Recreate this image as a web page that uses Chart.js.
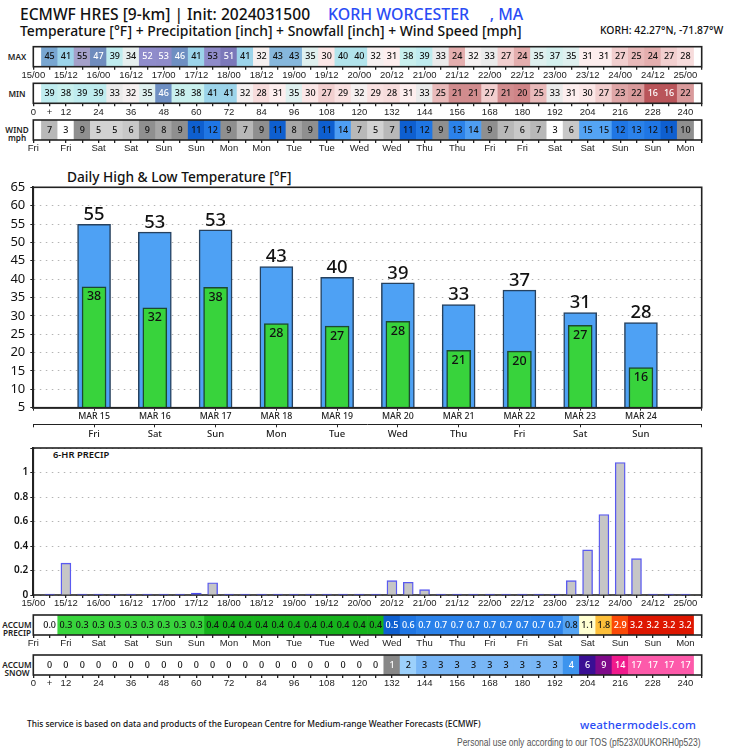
<!DOCTYPE html>
<html>
<head>
<meta charset="utf-8">
<script src="https://cdn.jsdelivr.net/npm/chart.js@4"></script>
<style>
  html, body { margin: 0; padding: 0; background: #fff; }
  #page { position: relative; width: 735px; height: 750px; overflow: hidden; font-family: "Noto Sans", sans-serif; color: #111; }
  #page canvas { position: absolute; left: 0; }
  .txt { position: absolute; white-space: pre; line-height: 1; }
  .lab { font-size: 8.2px; font-weight: 600; text-align: center; width: 32px; left: 1px; line-height: 8px; color: #222; }
</style>
</head>
<body>
<div id="page">
  <div class="txt" style="left:20px;top:6.5px;font-size:15.6px;font-weight:500">ECMWF HRES [9-km] | Init: 2024031500</div>
  <div class="txt" style="left:328px;top:6.5px;font-size:15.9px;font-weight:500;color:#2a4cf5">KORH WORCESTER     , MA</div>
  <div class="txt" style="left:20px;top:23.5px;font-size:13.9px;font-weight:500">Temperature [°F] + Precipitation [inch] + Snowfall [inch] + Wind Speed [mph]</div>
  <div class="txt" style="left:600px;top:25px;font-size:10.4px;font-weight:500">KORH: 42.27°N, -71.87°W</div>
  <div class="txt lab" style="top:53px">MAX</div>
  <div class="txt lab" style="top:90px">MIN</div>
  <div class="txt lab" style="top:126px">WIND<br>mph</div>
  <div class="txt lab" style="top:621px">ACCUM<br>PRECIP</div>
  <div class="txt lab" style="top:661px">ACCUM<br>SNOW</div>
  <div class="txt" style="left:67px;top:170px;font-size:13.7px;font-weight:500">Daily High &amp; Low Temperature [°F]</div>
  <div class="txt" style="left:53px;top:450px;font-size:9.4px;font-weight:600">6-HR PRECIP</div>
  <div class="txt" style="left:27px;top:720px;font-size:8.4px;font-weight:500">This service is based on data and products of the European Centre for Medium-range Weather Forecasts (ECMWF)</div>
  <div class="txt" style="left:580px;top:719px;font-size:11.5px;font-weight:500;color:#2a4cf5;letter-spacing:.2px">weathermodels.com</div>
  <div class="txt" style="left:457px;top:738px;font-family:'Liberation Sans';font-size:10.4px;color:#555;transform:scaleX(.815);transform-origin:left">Personal use only according to our TOS (pf523X0UKORH0p523)</div>
</div>
<script>
// -------- values (every 6 hours, +6 to +240) --------
const hours = [];
for (let h = 6; h <= 240; h += 6) hours.push(h);

const maxT = [45,41,55,47,39,34,52,53,46,41,53,51,41,32,43,43,35,30,40,40,32,31,38,39,33,24,32,33,27,24,35,37,35,31,31,27,25,24,27,28];
const minT = [39,38,39,39,33,32,35,46,38,38,41,41,32,28,31,35,30,27,29,32,29,28,31,33,25,21,21,27,21,20,25,33,31,30,27,23,22,16,16,22];
const wind = [7,3,9,5,5,6,9,8,9,11,12,9,7,9,11,8,9,11,14,7,5,7,11,12,9,13,14,9,7,6,7,3,6,15,15,12,13,12,11,10];
const precip6 = [0.008,0.26,0.008,0.008,0.008,0.008,0.008,0.008,0.008,0.015,0.10,0.008,0.008,0.008,0.008,0.008,0.008,0.008,0.008,0.008,0.008,0.117,0.104,0.044,0.008,0.008,0.008,0.008,0.008,0.008,0.008,0.008,0.117,0.368,0.657,1.082,0.297,0.008,0.008,0.008];
const accPrecip = ['0.0','0.3','0.3','0.3','0.3','0.3','0.3','0.3','0.3','0.3','0.4','0.4','0.4','0.4','0.4','0.4','0.4','0.4','0.4','0.4','0.4','0.5','0.6','0.7','0.7','0.7','0.7','0.7','0.7','0.7','0.7','0.7','0.8','1.1','1.8','2.9','3.2','3.2','3.2','3.2'];
const accSnow = [0,0,0,0,0,0,0,0,0,0,0,0,0,0,0,0,0,0,0,0,0,1,2,3,3,3,3,3,3,3,3,3,4,6,9,14,17,17,17,17];

const dayLabels = ['MAR 15','MAR 16','MAR 17','MAR 18','MAR 19','MAR 20','MAR 21','MAR 22','MAR 23','MAR 24'];
const dayNames = ['Fri','Sat','Sun','Mon','Tue','Wed','Thu','Fri','Sat','Sun'];
const highBars = [54.9,52.8,53.4,43.4,40.5,39,33.1,37,30.9,28.2];
const highText = [55,53,53,43,40,39,33,37,31,28];
const lowBars = [37.9,32.2,37.8,27.9,27.2,28.5,20.6,20.4,27.4,15.9];
const lowText = [38,32,38,28,27,28,21,20,27,16];

// -------- colour tables --------
const tempColors = {
  16:'#b9555a',20:'#cf8487',21:'#d18c8e',22:'#d99a9b',23:'#dfa6a7',24:'#e4aeae',25:'#e9baba',27:'#f2cfcf',28:'#f7dcdc',29:'#f9e1e1',
  30:'#fbe7e7',31:'#fdeeee',32:'#f5f0f0',33:'#ebebeb',34:'#e6efef',35:'#dff0ef',37:'#d4f0ee',38:'#c9f0ee',39:'#bfecef',40:'#b2e4ec',
  41:'#9cd4ea',43:'#86b7dc',45:'#78a6d1',46:'#6e8fc2',47:'#6f8cbd',51:'#7b78b9',52:'#8f8ccb',53:'#8e8bc9',55:'#a4a0c9'
};
const windColors = {3:'#ffffff',5:'#d2d2d2',6:'#c8c8c8',7:'#b8b8b8',8:'#a6a6a6',9:'#8f8f8f',10:'#8f8f8f',11:'#0e5fd0',12:'#1f76e4',13:'#2b82ea',14:'#4e9ef3',15:'#54a4f4'};
const precipColors = {'0.0':'#ffffff','0.3':'#38d43c','0.4':'#16b21c','0.5':'#0e5fd0','0.6':'#1f76e4','0.7':'#2b82ea','0.8':'#54a4f4','1.1':'#ffffd2','1.8':'#fdbf3a','2.9':'#fb4a08','3.2':'#de1600'};
const snowColors = {0:'#ffffff',1:'#888888',2:'#9cd0fb',3:'#78b6f6',4:'#3d94ee',6:'#3a0f94',9:'#7f0a8a',14:'#f01a8c',17:'#fd5aaa'};

// -------- shared bits --------
const LEFT = 33.3, RIGHT = 701.7, W = 735;
const TICK_FONT = { family: '"Liberation Sans"', size: 9.5 };
const dates = [];
for (let d = 15; d <= 25; d++) { dates.push(d + '/00'); if (d < 25) dates.push(d + '/12'); }
const weekdays = ['Fri','Fri','Sat','Sat','Sun','Sun','Mon','Mon','Tue','Tue','Wed','Wed','Thu','Thu','Fri','Fri','Sat','Sat','Sun','Sun','Mon'];
const everyTwelve = v => v % 12 === 0 && v <= 240;
const hourTick = v => (v === 6 ? '+' : everyTwelve(v) ? String(v) : '');
const dayTick = v => (everyTwelve(v) ? weekdays[v / 12] : '');
const dateTick = v => (everyTwelve(v) ? dates[v / 12] : '');
const sixHourTicks = s => { s.ticks = []; for (let v = 0; v <= 246; v += 6) s.ticks.push({ value: v }); };

// stops the scale from pushing the plot rectangle in for half a label
const fixSize = (prop, size) => s => {
  s[prop] = size;
  s.paddingTop = s.paddingBottom = s.paddingLeft = s.paddingRight = 0;
};

const hourAxis = (height, tick) => ({
  type: 'linear', min: 0, max: 246, offset: false,
  afterBuildTicks: sixHourTicks,
  afterFit: fixSize('height', height),
  grid: { offset: false, drawOnChartArea: false, tickLength: 3, color: '#222', lineWidth: 1.3 },
  border: { display: false },
  ticks: { autoSkip: false, maxRotation: 0, padding: 0, color: '#222', font: TICK_FONT, callback: tick }
});

// dark frame around the plot rectangle
const drawFrame = chart => {
  const a = chart.chartArea, ctx = chart.ctx;
  ctx.save();
  ctx.strokeStyle = '#222';
  ctx.lineWidth = 1.6;
  ctx.strokeRect(a.left, a.top, a.right - a.left, a.bottom - a.top);
  ctx.restore();
};
const frameOnTop = { id: 'frameOnTop', afterDraw: drawFrame };
const frameBelow = { id: 'frameBelow', beforeDatasetsDraw: drawFrame };

// numbers written on the cells / bars
const valueLabels = {
  id: 'valueLabels',
  afterDatasetsDraw(chart) {
    const ctx = chart.ctx;
    chart.data.datasets.forEach((ds, i) => {
      if (!ds.valueText) return;
      chart.getDatasetMeta(i).data.forEach((bar, j) => {
        if (ds.valueText[j] === '') return;
        ctx.save();
        ctx.font = ds.valueFont || '500 9px "Noto Sans"';
        ctx.textAlign = 'center';
        ctx.textBaseline = 'middle';
        ctx.fillStyle = ds.valueColor ? ds.valueColor(ds.valueText[j], j) : '#111';
        const y = ds.valueY ? ds.valueY(bar) : (chart.chartArea.top + chart.chartArea.bottom) / 2;
        ctx.fillText(String(ds.valueText[j]), bar.x, y);
        ctx.restore();
      });
    });
  }
};

function addCanvas(top, height) {
  const c = document.createElement('canvas');
  c.style.top = top + 'px';
  c.style.width = W + 'px';
  c.style.height = height + 'px';
  c.width = W;
  c.height = height;
  document.getElementById('page').appendChild(c);
  return c;
}

const noChrome = { legend: { display: false }, tooltip: { enabled: false } };

// one of the coloured strips: top of the strip in page px, values, colours, tick text
function strip(top, values, colors, textColor, tick) {
  const canvasTop = Math.floor(top) - 2;
  const padTop = top - canvasTop;
  return new Chart(addCanvas(canvasTop, 40), {
    type: 'bar',
    data: {
      datasets: [{
        data: hours.map(h => ({ x: h, y: 1 })),
        backgroundColor: values.map(v => colors[v]),
        barPercentage: 1,
        categoryPercentage: 1,
        valueText: values,
        valueColor: textColor
      }]
    },
    options: {
      responsive: false,
      animation: false,
      layout: { padding: { left: LEFT, right: W - RIGHT, top: padTop, bottom: 0 } },
      plugins: noChrome,
      scales: {
        x: hourAxis(20 - padTop, tick),
        y: { display: false, min: 0, max: 1 }
      }
    },
    plugins: [frameOnTop, valueLabels]
  });
}

// -------- strips --------
const whiteTemp = (v, j) => ([16, 46, 47, 51, 52].includes(v) || (v === 53 && j === 7) ? '#fff' : '#111');
strip(46.7, maxT, tempColors, whiteTemp, dateTick);
strip(83.3, minT, tempColors, whiteTemp, hourTick);
strip(120, wind, windColors, () => '#111', dayTick);
strip(615, accPrecip, precipColors, v => (['0.5','0.6','0.7','2.9','3.2'].includes(v) ? '#fff' : '#111'), dayTick);
strip(655, accSnow, snowColors, v => ([1,4,6,9,14,17].includes(v) ? '#fff' : '#111'), hourTick);

// -------- daily high / low --------
new Chart(addCanvas(180, 265), {
  type: 'bar',
  data: {
    labels: ['', ...dayLabels, ''],
    datasets: [
      {
        data: [null, ...highBars, null],
        backgroundColor: '#4ea1f4',
        borderColor: '#26415e',
        borderWidth: { top: 1.5, left: 1.5, right: 1.5, bottom: 0 },
        borderSkipped: false,
        barThickness: 33,
        order: 2,
        grouped: false,
        valueText: ['', ...highText, ''],
        valueFont: '500 18.4px "Noto Sans"',
        valueY: bar => bar.y - 9.5
      },
      {
        data: [null, ...lowBars, null],
        backgroundColor: '#38d33c',
        borderColor: '#1c4a30',
        borderWidth: { top: 1.5, left: 1.5, right: 1.5, bottom: 0 },
        borderSkipped: false,
        barThickness: 24,
        order: 1,
        grouped: false,
        valueText: ['', ...lowText, ''],
        valueFont: '500 12.5px "Noto Sans"',
        valueY: bar => bar.y + 10
      }
    ]
  },
  options: {
    responsive: false,
    animation: false,
    layout: { padding: { left: 0, right: W - RIGHT, top: 7.3, bottom: 0 } },
    plugins: noChrome,
    scales: {
      x: {
        offset: false,
        weight: 1,
        afterFit: fixSize('height', 16.6),
        grid: { offset: false, drawOnChartArea: false, tickLength: 3, color: '#222', lineWidth: 1 },
        border: { color: '#222', width: 1.8 },
        ticks: { autoSkip: false, maxRotation: 0, padding: 1, color: '#222', font: { family: '"Noto Sans"', size: 8.8, weight: '500' } }
      },
      days: {
        axis: 'x',
        type: 'category',
        position: 'bottom',
        weight: 2,
        labels: ['', ...dayNames, ''],
        offset: false,
        afterFit: fixSize('height', 20.7),
        grid: { offset: false, drawOnChartArea: false, tickLength: 3, color: '#222', lineWidth: 1 },
        border: { color: '#222', width: 1 },
        ticks: { autoSkip: false, maxRotation: 0, padding: 1, color: '#222', font: { family: '"Noto Sans"', size: 9.5, weight: '500' } }
      },
      y: {
        min: 5, max: 65,
        afterFit: fixSize('width', LEFT),
        grid: { color: '#b4b4b4', lineWidth: 1, drawTicks: true, tickLength: 3, tickColor: '#222' },
        border: { color: '#222', width: 1.8, dash: [1.5, 4.5] },
        ticks: { stepSize: 5, autoSkip: false, padding: 5, color: '#111', font: { family: '"Noto Sans"', size: 13 } }
      }
    }
  },
  plugins: [frameOnTop, valueLabels]
});

// -------- 6-hr precip --------
new Chart(addCanvas(440, 175), {
  type: 'bar',
  data: {
    datasets: [{
      data: hours.map((h, i) => ({ x: h, y: precip6[i] })),
      backgroundColor: ctx => (ctx.raw.y < 0.02 ? '#3c3cf0' : '#c6c6c6'),
      borderColor: '#5a5af0',
      borderWidth: 1.4,
      borderSkipped: 'bottom',
      barThickness: 10
    }]
  },
  options: {
    responsive: false,
    animation: false,
    layout: { padding: { left: 0, right: W - RIGHT, top: 8, bottom: 0 } },
    plugins: noChrome,
    scales: {
      x: hourAxis(20, dateTick),
      y: {
        min: 0, max: 1.2,
        afterFit: fixSize('width', LEFT),
        grid: { color: '#b4b4b4', lineWidth: 1, drawTicks: true, tickLength: 3, tickColor: '#222' },
        border: { color: '#222', width: 1.8, dash: [1.5, 4.5] },
        ticks: {
          stepSize: 0.2, autoSkip: false, padding: 2, color: '#111',
          font: { family: '"Noto Sans"', size: 10, weight: '600' },
          callback: v => (v > 1.01 ? '' : String(Math.round(v * 10) / 10))
        }
      }
    }
  },
  plugins: [frameBelow]
});
</script>
</body>
</html>
